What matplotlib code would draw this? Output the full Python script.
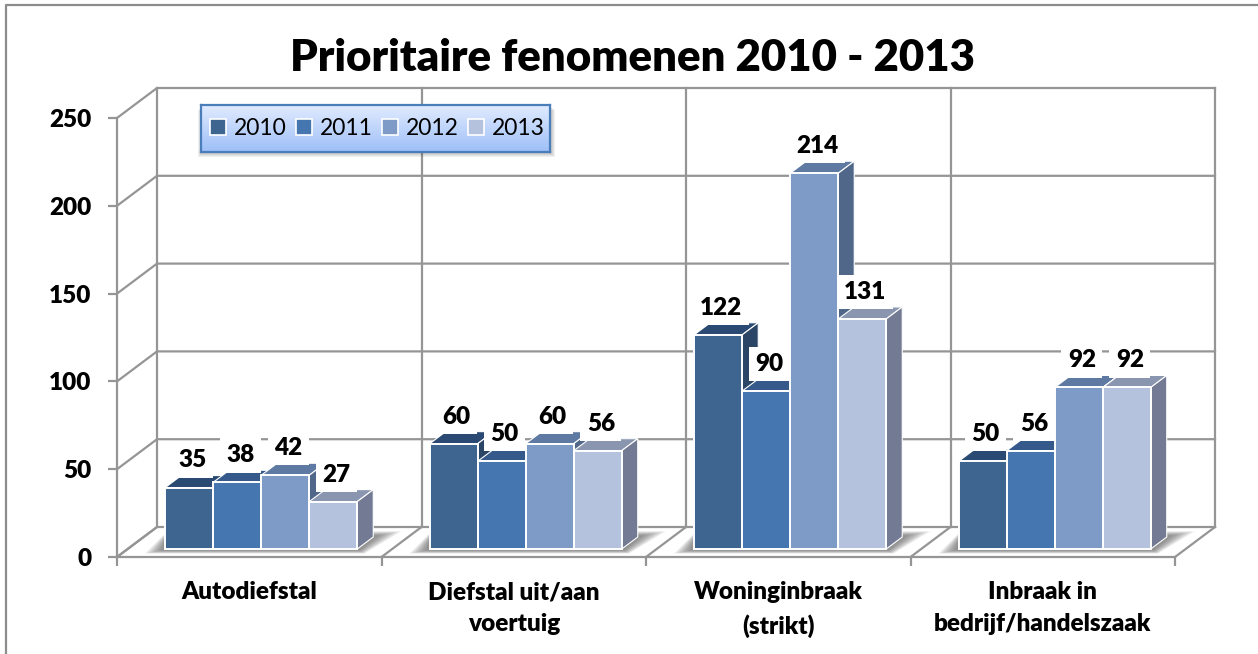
import numpy as np
import matplotlib
matplotlib.use('Agg')
import matplotlib.pyplot as plt
from matplotlib.lines import Line2D
from matplotlib.patches import Polygon

# ==============================================================================
# Data
# ==============================================================================

categories = ['Autodiefstal', 'Diefstal uit/aan\nvoertuig',
              'Woninginbraak\n(strikt)', 'Inbraak in\nbedrijf/handelszaak']
years = ['2010', '2011', '2012', '2013']
values_2010 = [35, 60, 122, 50]
values_2011 = [38, 50, 90, 56]
values_2012 = [42, 60, 214, 92]
values_2013 = [27, 56, 131, 92]
y_ticks = [0, 50, 100, 150, 200, 250]

series = [values_2010, values_2011, values_2012, values_2013]
front_colors = ['#3D6590', '#4676B0', '#7E9BC8', '#B5C2DD']
top_colors = ['#2B4A73', '#35598A', '#5E7AA3', '#8A96B0']
side_colors = ['#2A4565', '#34557F', '#50678A', '#737A93']

GRID = '#959595'
W, H = 1258, 654

plt.rcParams['font.family'] = ['Lato', 'DejaVu Sans']

fig = plt.figure(figsize=(W / 100, H / 100), dpi=100)

# front plane of the 3D box, in pixels: x 117-1175, y 118-557
ax = fig.add_axes([117 / W, 1 - 557 / H, (1175 - 117) / W, (557 - 118) / H])
ax.set_xlim(0, 4)
ax.set_ylim(0, 250)
ax.patch.set_visible(False)

px_x = 4 / (1175 - 117)
px_y = 250 / (557 - 118)

# --- Box: back wall, left wall, floor ---
back_dx, back_dy = 40 * px_x, 30 * px_y
for v in y_ticks:
    ax.plot([0, back_dx, 4 + back_dx], [v, v + back_dy, v + back_dy], color=GRID,
            lw=1.6, clip_on=False, zorder=1)
for i in range(5):
    ax.plot([i, i + back_dx], [0, back_dy], color=GRID, lw=1.6, clip_on=False, zorder=1)
    ax.plot([i + back_dx, i + back_dx], [back_dy, 250 + back_dy], color=GRID, lw=1.6,
            clip_on=False, zorder=1)

# --- Bars ---
bar_w = 48 * px_x
base_dx, base_dy = 12 * px_x, 8 * px_y
depth_dx, depth_dy = 16 * px_x, 12 * px_y
group_x = np.arange(4) + 0.5 + base_dx - 2 * bar_w

for g in range(4):
    # soft floor shadow, stacked from wide and faint to narrow and dark
    x0 = group_x[g]
    x1 = x0 + 4 * bar_w
    for k in range(12):
        grow = (12 - k) * 2.2 * px_x
        ax.add_patch(Polygon(
            [(x0 - 2 * px_x - grow * 0.7, base_dy - (1 + (12 - k) * 0.3) * px_y),
             (x1 + 2 * px_x + grow * 0.2, base_dy - (1 + (12 - k) * 0.3) * px_y),
             (x1 + depth_dx + 2 * px_x + grow, base_dy + depth_dy + (1 + (12 - k) * 0.4) * px_y),
             (x0 + 2 * px_x, base_dy + depth_dy + (1 + (12 - k) * 0.4) * px_y)],
            facecolor='#444444', edgecolor='none', alpha=0.065, clip_on=False, zorder=2))

for s, vals in enumerate(series):
    x = group_x + s * bar_w
    ax.bar(x, vals, width=bar_w, bottom=base_dy, align='edge', color=front_colors[s],
           edgecolor='white', linewidth=1.4, clip_on=False, zorder=5 + s)
    for xi, v in zip(x, vals):
        top = base_dy + v
        ax.add_patch(Polygon(
            [(xi, top), (xi + bar_w, top), (xi + bar_w + depth_dx, top + depth_dy),
             (xi + depth_dx, top + depth_dy)],
            facecolor=top_colors[s], edgecolor='white', lw=0.8, clip_on=False, zorder=4 + s))
        ax.add_patch(Polygon(
            [(xi + bar_w, base_dy), (xi + bar_w + depth_dx, base_dy + depth_dy),
             (xi + bar_w + depth_dx, top + depth_dy), (xi + bar_w, top)],
            facecolor=side_colors[s], edgecolor='white', lw=0.8, clip_on=False, zorder=4 + s))

# --- Value labels, white boxes hide whatever sits behind them ---
for s, vals in enumerate(series):
    x = group_x + s * bar_w + bar_w / 2
    for xi, v in zip(x, vals):
        ax.annotate(str(v), (xi, base_dy + v), xytext=(2.2, 19.5), textcoords='offset points',
                    ha='center', va='center', fontsize=17.5, fontweight='heavy', color='black',
                    zorder=20, annotation_clip=False,
                    bbox=dict(facecolor='white', edgecolor='none', pad=4.5))

# --- Axes and ticks ---
for side in ['top', 'right']:
    ax.spines[side].set_visible(False)
for side in ['left', 'bottom']:
    ax.spines[side].set_color(GRID)
    ax.spines[side].set_linewidth(1.6)
ax.set_yticks(y_ticks)
ax.set_yticklabels([str(v) for v in y_ticks], fontsize=17.5, fontweight='heavy')
ax.set_xticks(range(5))
ax.set_xticklabels([])
ax.set_xticks(np.arange(4) + 0.5, minor=True)
ax.set_xticklabels(categories, minor=True, fontsize=17.5, fontweight='heavy', linespacing=1.54)
ax.tick_params(axis='y', length=6.5, width=1.6, color=GRID, pad=12)
ax.tick_params(axis='x', which='major', length=6.5, width=1.6, color=GRID)
ax.tick_params(axis='x', which='minor', length=0, pad=17.5)

fig.text(633 / W, 1 - 58 / H, 'Prioritaire fenomenen 2010 - 2013', ha='center', va='center',
         fontsize=31.5, fontweight='heavy', color='black')

# --- Outer chart border: left and top only, the rest is cut by the image edge ---
fig.add_artist(Line2D([5.5 / W, 5.5 / W, 1], [0, 1 - 5 / H, 1 - 5 / H], color='#8C8C8C', lw=1.6))

# --- Legend: gradient panel with a soft shadow ---
lx0, lx1, ly0, ly1 = 201, 550, 105, 152
for k in range(5):
    fig.add_artist(plt.Rectangle(((lx0 + 1 - k) / W, 1 - (ly1 + 1 + k) / H),
                                 (lx1 - lx0 + 2 * k) / W, (ly1 - ly0) / H,
                                 transform=fig.transFigure, facecolor='#444444',
                                 edgecolor='none', alpha=0.08, zorder=30))
lax = fig.add_axes([lx0 / W, 1 - ly1 / H, (lx1 - lx0) / W, (ly1 - ly0) / H], zorder=31)
gradient = np.linspace(0, 1, 64).reshape(-1, 1)
start, end = np.array([0.88, 0.92, 1.0]), np.array([0.62, 0.75, 0.97])
lax.imshow(start + (end - start) * gradient[..., None], aspect='auto')
lax.set_xticks([])
lax.set_yticks([])
for sp in lax.spines.values():
    sp.set_color('#4A7EBB')
    sp.set_linewidth(1.6)

handles = [Line2D([], [], ls='none', marker='s', markersize=11.5, markerfacecolor=c,
                  markeredgecolor='white', markeredgewidth=1.2, label=y)
           for c, y in zip(front_colors, years)]
lax.legend(handles=handles, ncol=4, loc='center', frameon=False, fontsize=16.5,
           handletextpad=0.2, columnspacing=0.25, handlelength=1.0, borderpad=0, borderaxespad=0)

fig.savefig('out.png', dpi=100)
